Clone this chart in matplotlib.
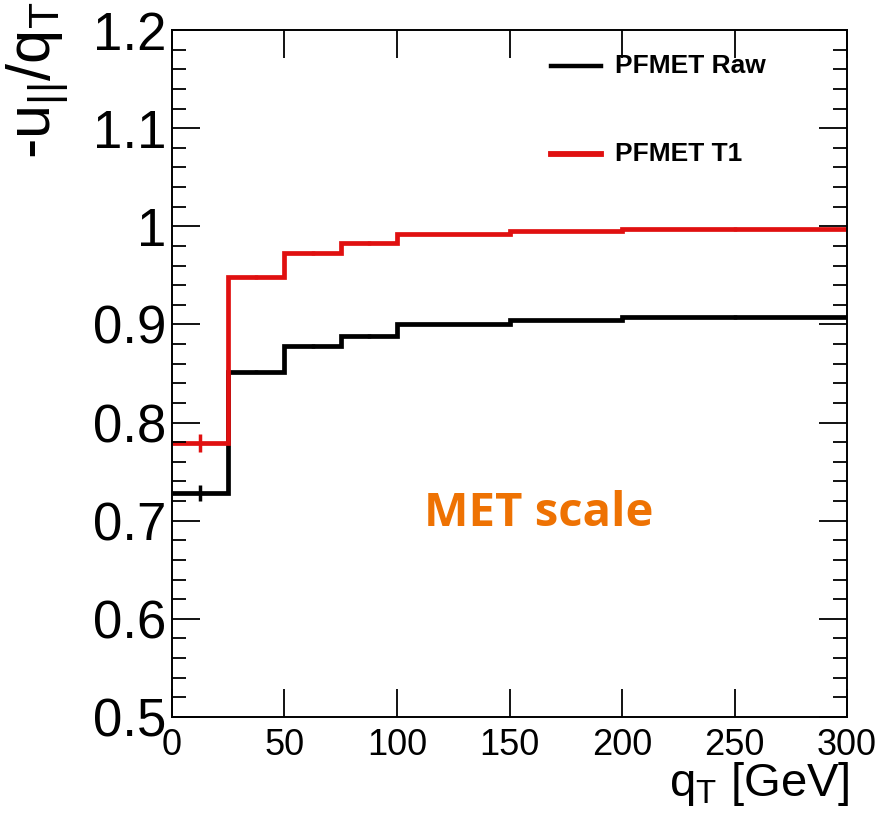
import numpy as np
import matplotlib
matplotlib.use("Agg")
import matplotlib.pyplot as plt
from matplotlib.ticker import MultipleLocator, FixedLocator

plt.rcParams["font.family"] = ["Liberation Sans", "DejaVu Sans"]
plt.rcParams["mathtext.fontset"] = "custom"
plt.rcParams["mathtext.rm"] = "Liberation Sans"
plt.rcParams["mathtext.it"] = "Liberation Sans"

# bin edges in q_T [GeV]
edges = [0, 25, 50, 75, 100, 150, 200, 300]
raw = [0.728, 0.852, 0.878, 0.888, 0.900, 0.905, 0.908]
raw_err = [0.008, 0.002, 0.002, 0.002, 0.001, 0.001, 0.002]
t1 = [0.779, 0.948, 0.973, 0.983, 0.992, 0.995, 0.997]
t1_err = [0.009, 0.002, 0.002, 0.002, 0.001, 0.001, 0.002]
ytick_vals = [0.5, 0.6, 0.7, 0.8, 0.9, 1.0, 1.1, 1.2]
ytick_labels = ["0.5", "0.6", "0.7", "0.8", "0.9", "1", "1.1", "1.2"]

centers = [(a + b) / 2 for a, b in zip(edges[:-1], edges[1:])]
RED = "#e01010"

fig = plt.figure(figsize=(8.93, 8.18), dpi=100)
ax = fig.add_axes([0.1926, 0.1235, 0.7559, 0.8398])

ax.stairs(raw, edges, color="black", lw=3.4, baseline=None)
ax.stairs(t1, edges, color=RED, lw=3.4, baseline=None)
ax.errorbar(centers, raw, yerr=raw_err, fmt="none", ecolor="black", elinewidth=2.5)
ax.errorbar(centers, t1, yerr=t1_err, fmt="none", ecolor=RED, elinewidth=2.5)

ax.set_xlim(0, 300)
ax.set_ylim(0.5, 1.2)
ax.xaxis.set_major_locator(MultipleLocator(50))
ax.yaxis.set_major_locator(FixedLocator(ytick_vals))
ax.yaxis.set_minor_locator(MultipleLocator(0.02))
ax.set_yticklabels(ytick_labels)
ax.tick_params(axis="both", which="both", direction="in", top=True, right=True, width=1.3)
ax.tick_params(axis="y", which="major", length=20, labelsize=38, pad=4)
ax.tick_params(axis="y", which="minor", length=10)
ax.tick_params(axis="x", which="major", length=20, labelsize=26, pad=8)
for s in ax.spines.values():
    s.set_linewidth(1.4)

# legend drawn ROOT-style
ax.plot([0.561, 0.636], [0.948, 0.948], transform=ax.transAxes, color="black", lw=3.2)
ax.plot([0.561, 0.636], [0.820, 0.820], transform=ax.transAxes, color=RED, lw=4.2)
ax.text(0.656, 0.948, "PFMET Raw", transform=ax.transAxes, fontsize=19,
        fontweight="bold", va="center")
ax.text(0.656, 0.820, "PFMET T1", transform=ax.transAxes, fontsize=19,
        fontweight="bold", va="center")

ax.text(0.543, 0.296, "MET scale", transform=ax.transAxes, fontsize=34,
        fontweight="bold", color="#ee7203", ha="center", va="center",
        family=["Open Sans", "DejaVu Sans"])

fig.text(0.042, 0.998, r"-u$_{||}$/q$_{\mathrm{T}}$", rotation=90, fontsize=44,
         ha="center", va="top")
fig.text(0.951, 0.012, r"q$_{\mathrm{T}}$ [GeV]", fontsize=34, ha="right",
         va="bottom")

fig.savefig("out.png", dpi=100)
